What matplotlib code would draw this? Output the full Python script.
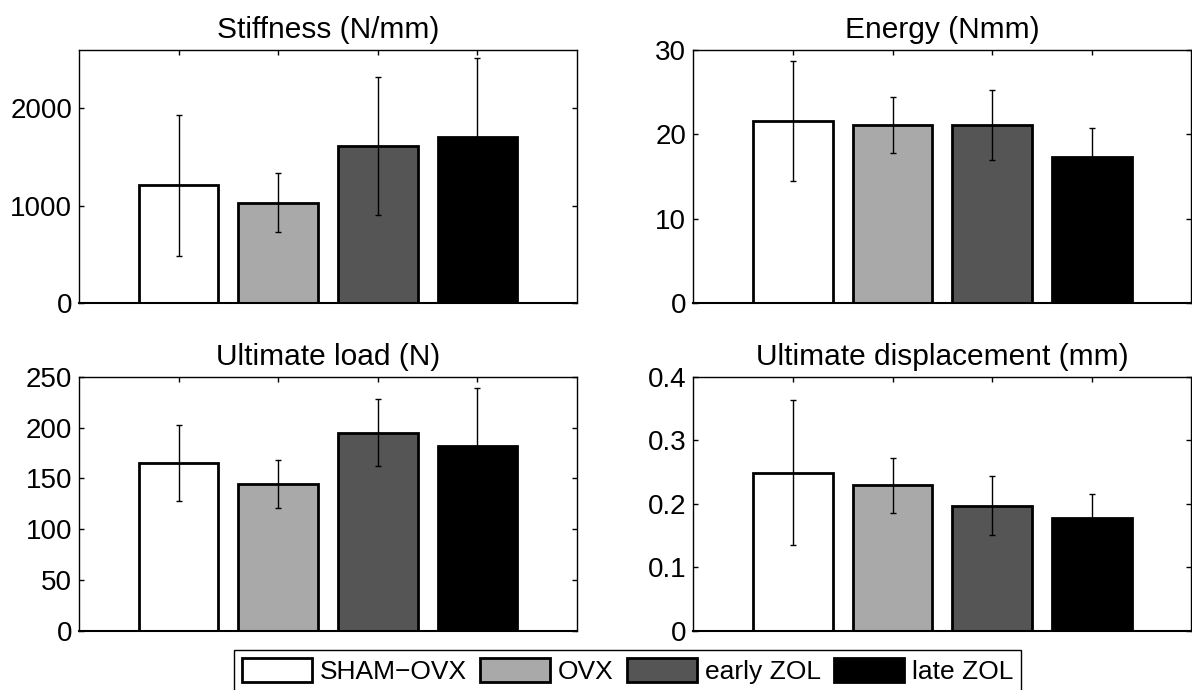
import matplotlib
matplotlib.use("Agg")
import matplotlib.pyplot as plt
import numpy as np

plt.rcParams['font.family'] = ['Liberation Sans', 'DejaVu Sans']

groups = ["SHAM\u2212OVX", "OVX", "early ZOL", "late ZOL"]
bar_colors = ["#ffffff", "#a9a9a9", "#555555", "#000000"]

titles = ["Stiffness (N/mm)", "Energy (Nmm)", "Ultimate load (N)", "Ultimate displacement (mm)"]

stiffness_mean = [1210, 1033, 1610, 1706]
stiffness_sd = [725, 303, 708, 810]
energy_mean = [21.6, 21.1, 21.1, 17.3]
energy_sd = [7.1, 3.3, 4.15, 3.5]
load_mean = [164.8, 144.5, 194.8, 181.5]
load_sd = [37.5, 24.0, 33.0, 57.5]
disp_mean = [0.249, 0.229, 0.197, 0.177]
disp_sd = [0.114, 0.0435, 0.047, 0.038]

stiffness_ticks = [0, 1000, 2000]
stiffness_ticklabels = ["0", "1000", "2000"]
energy_ticks = [0, 10, 20, 30]
energy_ticklabels = ["0", "10", "20", "30"]
load_ticks = [0, 50, 100, 150, 200, 250]
load_ticklabels = ["0", "50", "100", "150", "200", "250"]
disp_ticks = [0, 0.1, 0.2, 0.3, 0.4]
disp_ticklabels = ["0", "0.1", "0.2", "0.3", "0.4"]

ylims = [(0, 2600), (0, 30), (0, 250), (0, 0.4)]

panels = [
    (stiffness_mean, stiffness_sd, stiffness_ticks, stiffness_ticklabels),
    (energy_mean, energy_sd, energy_ticks, energy_ticklabels),
    (load_mean, load_sd, load_ticks, load_ticklabels),
    (disp_mean, disp_sd, disp_ticks, disp_ticklabels),
]

W, H = 1192, 690
fig = plt.figure(figsize=(W / 100, H / 100), dpi=100)

# axes rectangles in pixels: left, top, right, bottom
rects = [
    (79, 50, 577, 303.3),
    (693.3, 50, 1191.3, 303.3),
    (79, 376.7, 577, 630.7),
    (693.3, 376.7, 1191.3, 630.7),
]

FS = 20
x = np.arange(1, len(groups) + 1)
bars_for_legend = None
for i, (mean, sd, ticks, ticklabels) in enumerate(panels):
    l, t, r, b = rects[i]
    ax = fig.add_axes([l / W, 1 - b / H, (r - l) / W, (b - t) / H])
    bars = ax.bar(x, mean, width=0.8, color=bar_colors, edgecolor="black",
                  linewidth=2.0, zorder=2)
    for j in range(len(groups)):
        bars[j].set_label(groups[j])
    ax.errorbar(x, mean, yerr=sd, fmt="none", ecolor="black", elinewidth=1.0,
                capsize=2.0, capthick=1.0, zorder=3)
    if bars_for_legend is None:
        bars_for_legend = bars
    ax.set_xlim(0, 5)
    ax.set_ylim(*ylims[i])
    ax.set_xticks(x)
    ax.set_yticks(ticks)
    ax.set_yticklabels(ticklabels)
    ax.tick_params(axis="x", direction="in", top=True, bottom=False,
                   labelbottom=False, length=3.4, width=1.0)
    ax.tick_params(axis="y", direction="in", left=True, right=True,
                   length=3.4, width=1.0, labelsize=FS, pad=5)
    for s in ax.spines.values():
        s.set_linewidth(1.0)
    ax.spines["bottom"].set_linewidth(1.5)
    ax.set_title(titles[i], fontsize=21.5, pad=8.6)

leg = fig.legend(bars_for_legend, groups, loc="upper center",
                 bbox_to_anchor=(627.5 / W, 1 - 650 / H), ncol=4,
                 fontsize=19, frameon=True, fancybox=False, edgecolor="black",
                 framealpha=1, handlelength=2.65, handleheight=1.0,
                 handletextpad=0.3, columnspacing=0.5, borderpad=0.3,
                 borderaxespad=0)
leg.get_frame().set_linewidth(1.0)

fig.savefig("out.png", dpi=100)
